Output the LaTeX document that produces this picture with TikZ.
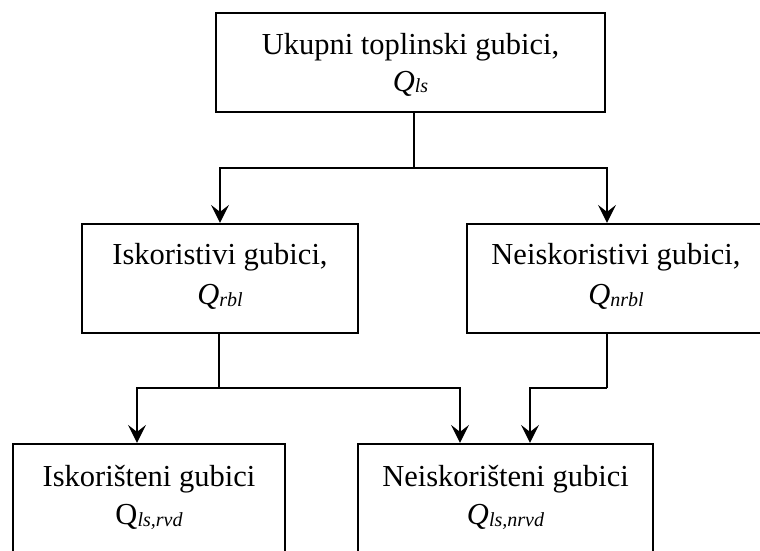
\documentclass[tikz,border=0pt]{standalone}
\usepackage{fontspec}
\setmainfont{Liberation Serif}
\usepackage{tikz}
\usetikzlibrary{arrows.meta}
\usetikzlibrary{positioning}
\newcommand{\subidx}[1]{\raisebox{-1.5pt}{\fontsize{20}{20}\selectfont\itshape #1}}

\begin{document}
\begin{tikzpicture}[x=1pt,y=-1pt,>={Stealth[length=18pt,width=18pt,inset=7pt]},line join=miter]
  \tikzset{
    box/.style={draw,rectangle,line width=2.2pt,inner sep=0pt},
    lbl/.style={anchor=north,align=center,inner sep=0pt,font=\fontsize{30.5}{38}\selectfont},
    conn/.style={line width=1.5pt}
  }
  \useasboundingbox (0,0) rectangle (760,550);
  \clip (0,0) rectangle (760,550);

  % boxes
  \node[box,minimum width=389pt,minimum height=99pt]  (tot)  at (410.5,62.5) {};
  \node[box,minimum width=276pt,minimum height=109pt] (rbl)  at (220,278.5) {};
  \node[box,minimum width=298pt,minimum height=109pt] (nrbl) at (616,278.5) {};
  \node[box,minimum width=272pt,minimum height=120pt] (rvd)  at (149,504) {};
  \node[box,minimum width=295pt,minimum height=120pt] (nrvd) at (505.5,504) {};

  % labels
  \node[lbl,below=21pt of tot.north]    (totT)  {Ukupni toplinski gubici,\\[-1pt]\textit{Q}\subidx{ls}};
  \node[lbl,below=20.5pt of rbl.north]  (rblT)  {Iskoristivi gubici,\\[2pt]\textit{Q}\subidx{rbl}};
  \node[lbl,below=20.5pt of nrbl.north] (nrblT) {Neiskoristivi gubici,\\[2pt]\textit{Q}\subidx{nrbl}};
  \node[lbl,below=22.5pt of rvd.north]  (rvdT)  {Iskorišteni gubici\\Q\subidx{ls,rvd}};
  \node[lbl,below=22.5pt of nrvd.north] (nrvdT) {Neiskorišteni gubici\\\textit{Q}\subidx{ls,nrvd}};

  % connectors
  \coordinate (split1) at (414,168);
  \coordinate (split2) at (219,388);
  \coordinate (split3) at (607,388);
  \draw[conn] (tot.south -| split1) -- (split1);
  \draw[conn,->] (split1) -| (rbl.north);
  \draw[conn,->] (split1) -| ([xshift=-9pt]nrbl.north);
  \draw[conn] (rbl.south -| split2) -- (split2);
  \draw[conn,->] (split2) -| ([xshift=-12pt]rvd.north);
  \draw[conn,->] (split2) -| ([xshift=-45.5pt]nrvd.north);
  \draw[conn] (nrbl.south -| split3) -- (split3);
  \draw[conn,->] (split3) -| ([xshift=24.5pt]nrvd.north);
\end{tikzpicture}
\end{document}
